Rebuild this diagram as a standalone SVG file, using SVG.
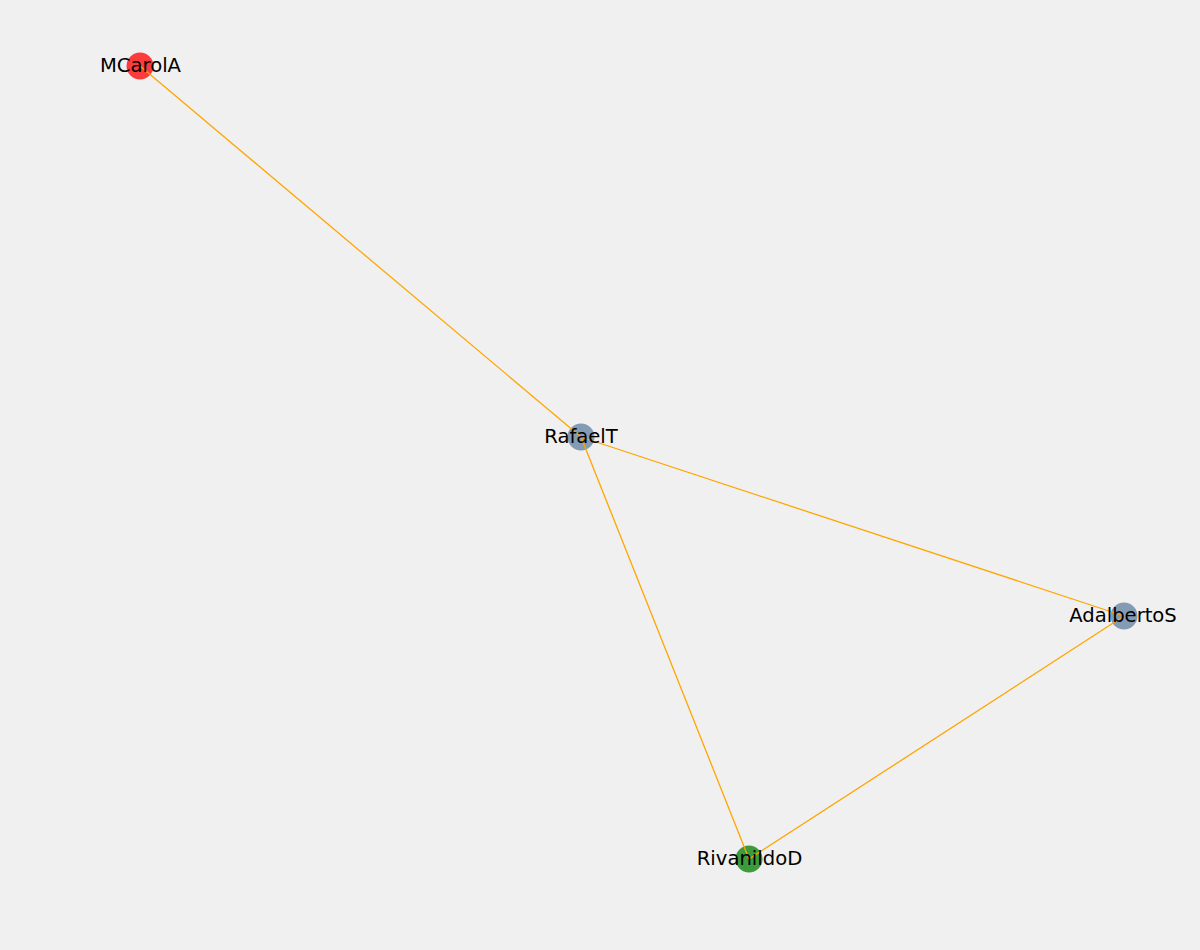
<svg xmlns="http://www.w3.org/2000/svg" width="1200" height="950" viewBox="0 0 1200 950">
<style>
.edge{stroke:#ffa500;stroke-width:1.3;fill:none}
.node{fill-opacity:0.75}
.lbl{font-family:"DejaVu Sans",sans-serif;font-size:19.6px;fill:#000;text-anchor:middle;dominant-baseline:central}
</style>
<rect width="1200" height="950" fill="#f0f0f0"/>
<g id="n-MCarolA"><circle class="node" cx="140" cy="66" r="13.5" fill="#ff0000"/></g>
<g id="n-RafaelT"><circle class="node" cx="581" cy="437" r="13.5" fill="#5f7f9f"/></g>
<g id="n-AdalbertoS"><circle class="node" cx="1124" cy="616" r="13.5" fill="#5f7f9f"/></g>
<g id="n-RivanildoD"><circle class="node" cx="749" cy="859" r="13.5" fill="#008000"/></g>
<g id="edges">
<line class="edge" x1="140" y1="66" x2="581" y2="437"/>
<line class="edge" x1="581" y1="437" x2="1124" y2="616"/>
<line class="edge" x1="581" y1="437" x2="749" y2="859"/>
<line class="edge" x1="1124" y1="616" x2="749" y2="859"/>
</g>
<g id="labels">
<text class="lbl" x="140.5" y="65">MCarolA</text>
<text class="lbl" x="581" y="436">RafaelT</text>
<text class="lbl" x="1123" y="615">AdalbertoS</text>
<text class="lbl" x="749.5" y="858">RivanildoD</text>
</g>
</svg>
